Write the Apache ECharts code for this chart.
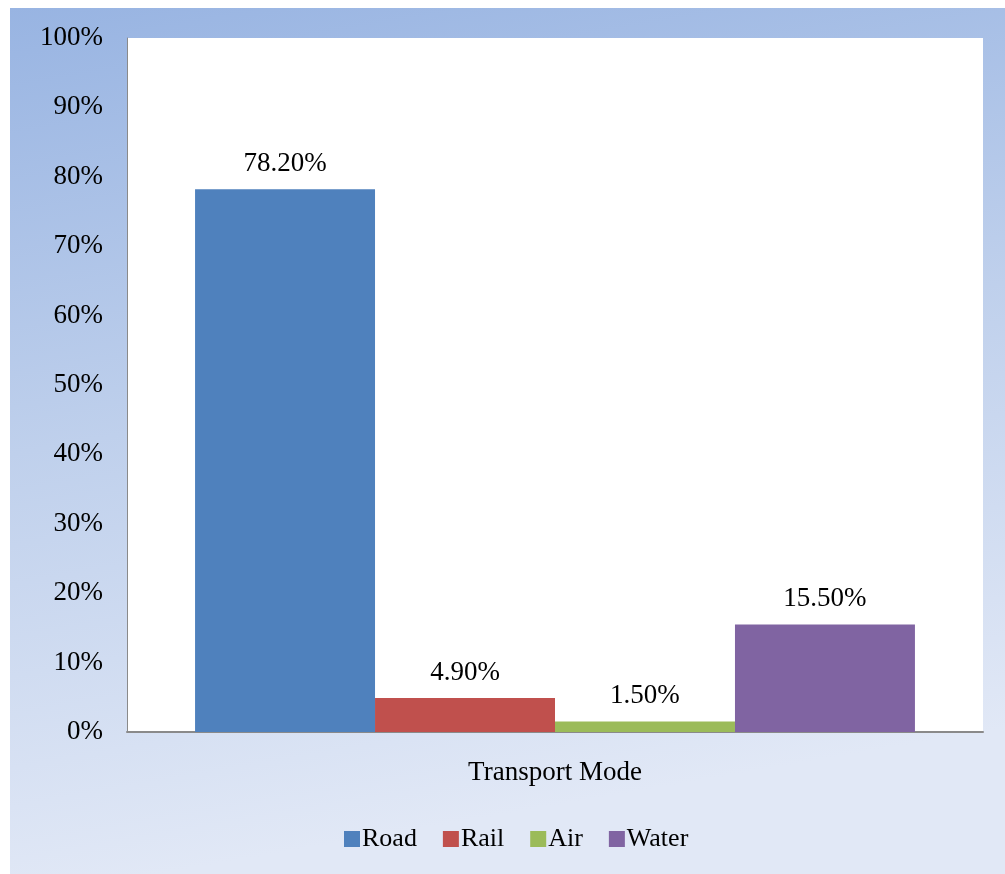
<!DOCTYPE html>
<html>
<head>
<meta charset="utf-8">
<script src="https://cdn.jsdelivr.net/npm/echarts@6/dist/echarts.min.js"></script>
<style>
  html, body { margin: 0; padding: 0; background: #ffffff; }
  #chart { position: absolute; left: 10px; top: 8px; width: 995px; height: 866px; }
</style>
</head>
<body>
<div id="chart"></div>
<script>
// Share of freight by transport mode (%)
const categories = ['Transport Mode'];
const seriesNames = ['Road', 'Rail', 'Air', 'Water'];
const road = [78.2];
const rail = [4.9];
const air = [1.5];
const water = [15.5];
const seriesValues = [road, rail, air, water];
const colors = ['#4F81BD', '#C0504D', '#9BBB59', '#8064A2'];

const serif = '"Liberation Serif", "Times New Roman", serif';

const chart = echarts.init(document.getElementById('chart'), null, { renderer: 'canvas' });

chart.setOption({
  animation: false,
  backgroundColor: {
    type: 'linear', x: 0, y: 0, x2: 0.15, y2: 1,
    colorStops: [
      { offset: 0, color: '#98B4E2' },
      { offset: 0.5, color: '#BFD0EC' },
      { offset: 1, color: '#E1E8F6' }
    ]
  },
  color: colors,
  textStyle: { fontFamily: serif, color: '#000' },
  grid: {
    left: 117, right: 22, top: 30, bottom: 142,
    show: true, backgroundColor: '#ffffff', borderWidth: 0
  },
  legend: {
    left: 329, top: 813,
    itemWidth: 16, itemHeight: 16, itemGap: 26,
    icon: 'rect',
    textStyle: { fontFamily: serif, fontSize: 26, color: '#000', padding: [0, 0, 0, -3] },
    data: seriesNames
  },
  xAxis: {
    type: 'category',
    data: categories,
    axisLine: { show: true, lineStyle: { color: '#8A8A8A', width: 2 } },
    axisTick: { show: false },
    axisLabel: { fontFamily: serif, fontSize: 27, color: '#000', margin: 27 }
  },
  yAxis: {
    type: 'value',
    min: 0, max: 100, interval: 10,
    axisLine: { show: true, lineStyle: { color: '#8A8A8A', width: 1 } },
    axisTick: { show: false },
    splitLine: { show: false },
    axisLabel: { fontFamily: serif, fontSize: 27, color: '#000', margin: 24, formatter: '{value}%' }
  },
  series: seriesNames.map((name, i) => ({
    name: name,
    type: 'bar',
    data: seriesValues[i],
    barGap: '0%',
    barCategoryGap: '15.9%',
    itemStyle: { color: colors[i] },
    label: {
      show: true,
      position: 'top',
      distance: 12,
      fontFamily: serif,
      fontSize: 27,
      color: '#000',
      formatter: p => p.value.toFixed(2) + '%'
    }
  }))
});
</script>
</body>
</html>
